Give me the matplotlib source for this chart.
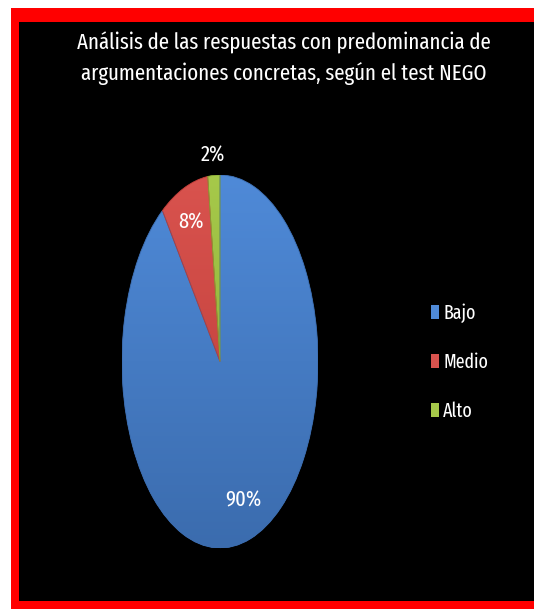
import numpy as np
import matplotlib
matplotlib.use("Agg")
import matplotlib.pyplot as plt
from matplotlib.patches import Rectangle, PathPatch
from matplotlib.colors import LinearSegmentedColormap

plt.rcParams['font.family'] = ['Fira Sans Extra Condensed', 'DejaVu Sans']

title = "Análisis de las respuestas con predominancia de\nargumentaciones concretas, según el test NEGO"
categories = ["Bajo", "Medio", "Alto"]
values = [90, 8, 2]
pct_labels = ["90%", "8%", "2%"]

# top / bottom shades for each slice
tops = ["#4f8ad8", "#d9534e", "#a6c94a"]
bottoms = ["#3b6cae", "#b93a36", "#86a533"]

W, H = 534, 609
fig = plt.figure(figsize=(W / 100, H / 100), dpi=100, facecolor="black")


def band(x0, y0, x1, y1, color):
    """Filled band given in pixel coordinates measured from the top-left corner."""
    fig.add_artist(Rectangle((x0 / W, 1 - y1 / H), (x1 - x0) / W, (y1 - y0) / H,
                             transform=fig.transFigure, facecolor=color,
                             edgecolor="none", linewidth=0, zorder=0))


# white margin on the left and top, red frame open on the right side
band(0, 0, 11, H, "white")
band(0, 0, W, 8, "white")
band(11, 8, 19, H, "#ff0000")
band(11, 8, W, 22, "#ff0000")
band(11, 601, W, H, "#ff0000")

fig.text(284 / W, 1 - 58 / H, title, ha="center", va="center", color="white",
         fontsize=16.3, linespacing=1.45)

# elliptical pie
ax = fig.add_axes([122 / W, (H - 548) / H, 196 / W, 373 / H])
ax.set_facecolor("none")
wedges, _ = ax.pie(values, colors=tops, startangle=90, counterclock=False, radius=1,
                   wedgeprops=dict(linewidth=0))

grad = np.linspace(1, 0, 256).reshape(-1, 1)
for w, t, b in zip(wedges, tops, bottoms):
    cmap = LinearSegmentedColormap.from_list("g", [b, t])
    im = ax.imshow(grad, extent=(-1, 1, -1, 1), cmap=cmap, aspect="auto",
                   origin="upper", zorder=w.get_zorder() + 0.1, interpolation="bilinear")
    im.set_clip_path(w)
    edge = PathPatch(w.get_path(), fill=False, edgecolor=b, linewidth=0.6,
                     transform=w.get_transform(), zorder=w.get_zorder() + 0.2)
    ax.add_patch(edge)

# percentage labels
label_r = [0.78, 0.80, 1.11]
cum = np.cumsum([0] + values[:-1])
total = sum(values)
for v, c, lab, r in zip(values, cum, pct_labels, label_r):
    ang = np.deg2rad(90 - 360 * (c + v / 2) / total)
    ax.text(r * np.cos(ang), r * np.sin(ang), lab, ha="center", va="center",
            color="white", fontsize=16, zorder=10)

ax.set_xlim(-1, 1)
ax.set_ylim(-1, 1)
ax.set_aspect("auto")
ax.axis("off")

fig.legend(wedges, categories, loc="center left",
           bbox_to_anchor=(431 / W, 1 - 362 / H), frameon=False,
           handlelength=0.42, handleheight=0.75, handletextpad=0.2,
           labelspacing=1.5, fontsize=14, labelcolor="white",
           borderpad=0, borderaxespad=0)

fig.savefig("out.png", dpi=100, facecolor="black")
